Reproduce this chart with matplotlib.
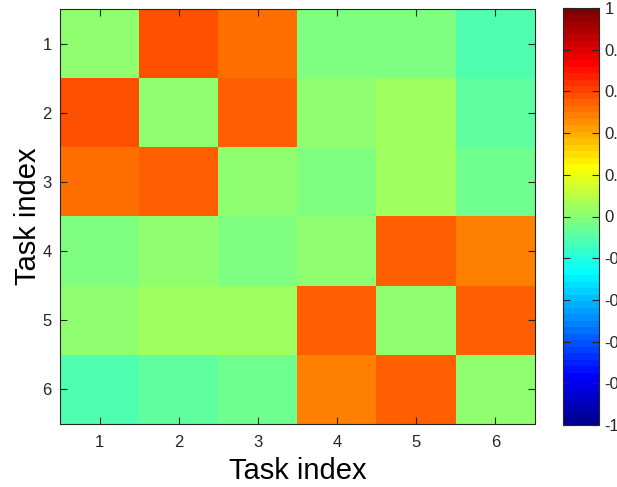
import numpy as np
import matplotlib
matplotlib.use('Agg')
import matplotlib.pyplot as plt
from matplotlib.colors import ListedColormap

plt.rcParams['font.family'] = ['Liberation Sans', 'DejaVu Sans']

# task-to-task correlation matrix (rows/cols = task index 1..6)
task_ids = [1, 2, 3, 4, 5, 6]
row1 = [0.00, 0.58, 0.52, -0.02, -0.02, -0.11]
row2 = [0.58, 0.00, 0.55, 0.01, 0.05, -0.08]
row3 = [0.52, 0.55, 0.00, -0.02, 0.05, -0.05]
row4 = [-0.02, 0.01, -0.02, 0.00, 0.55, 0.48]
row5 = [0.01, 0.05, 0.05, 0.55, 0.00, 0.55]
row6 = [-0.11, -0.08, -0.05, 0.48, 0.55, 0.00]
cbar_ticks = [-1, -0.8, -0.6, -0.4, -0.2, 0, 0.2, 0.4, 0.6, 0.8, 1]

corr = np.array([row1, row2, row3, row4, row5, row6])


def matlab_jet(m=64):
    # same construction as MATLAB's jet(m)
    n = int(np.ceil(m / 4))
    u = np.concatenate([np.arange(1, n + 1) / n, np.ones(n - 1), np.arange(n, 0, -1) / n])
    g = int(np.ceil(n / 2)) - (1 if m % 4 == 1 else 0) + np.arange(1, len(u) + 1)
    r = g + n
    b = g - n
    cmap = np.zeros((m, 3))
    for chan, idx in ((0, r), (1, g), (2, b)):
        ok = (idx >= 1) & (idx <= m)
        cmap[idx[ok] - 1, chan] = u[ok]
    return ListedColormap(cmap)


cmap = matlab_jet(64)

fig = plt.figure(figsize=(6.17, 4.87), dpi=100)
ax = fig.add_axes([60 / 617, 1 - 424 / 487, 475 / 617, 415 / 487])

n = len(task_ids)
im = ax.imshow(corr, cmap=cmap, vmin=-1, vmax=1, aspect='auto',
               interpolation='nearest', extent=(0.5, n + 0.5, n + 0.5, 0.5))

ax.set_xticks(task_ids)
ax.set_yticks(task_ids)
ax.tick_params(direction='in', length=5, width=0.8, top=True, right=True,
               labelsize=12, labelcolor='#262626', color='#262626')
ax.tick_params(axis='x', pad=8)
ax.tick_params(axis='y', pad=6)
for s in ax.spines.values():
    s.set_linewidth(0.8)
    s.set_color('#262626')

ax.set_xlabel('Task index', fontsize=21, labelpad=5)
ax.set_ylabel('Task index', fontsize=21, labelpad=0)

cax = fig.add_axes([563 / 617, 1 - 425 / 487, 36 / 617, 417 / 487])
cb = fig.colorbar(im, cax=cax, ticks=cbar_ticks)
cb.ax.tick_params(direction='in', length=5, width=0.8, left=True, right=True,
                  labelsize=12, labelcolor='#262626', color='#262626', pad=4)
cb.ax.set_yticklabels(['-1', '-0.8', '-0.6', '-0.4', '-0.2', '0', '0.2', '0.4', '0.6', '0.8', '1'])
cb.outline.set_linewidth(0.8)
cb.outline.set_edgecolor('#262626')

fig.savefig('out.png', dpi=100)
